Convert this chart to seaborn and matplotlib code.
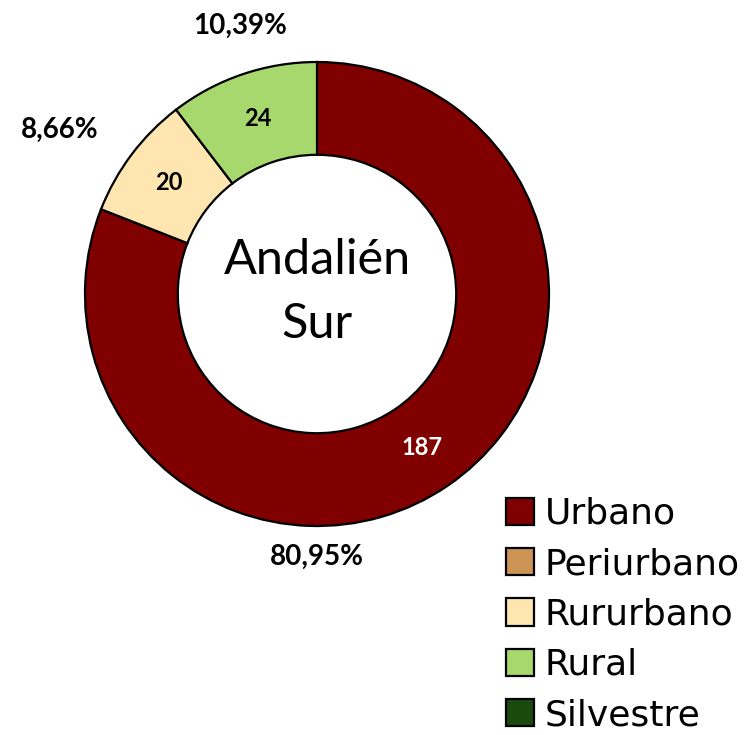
import matplotlib
matplotlib.use("Agg")
import matplotlib.pyplot as plt
import matplotlib.patches as mpatches
import numpy as np
import seaborn as sns

# Land-use classes and their counts
categories = ["Urbano", "Periurbano", "Rururbano", "Rural", "Silvestre"]
counts = [187, 0, 20, 24, 0]
colors = ["#800000", "#CC9455", "#FFE6B0", "#A6D86E", "#1B4A0E"]
title = "Andalién\nSur"

sns.set_theme(style="white")
plt.rcParams["font.family"] = ["DejaVu Sans"]
plt.rcParams["text.color"] = "black"

W, H = 748, 735
fig = plt.figure(figsize=(W / 100, H / 100), dpi=100)
ax = fig.add_axes([0, 0, 1, 1])

cx, cy, R = 317, H - 294, 232
ring = 0.40 * R

# only non-empty classes get a wedge
idx = [i for i, v in enumerate(counts) if v > 0]
vals = [counts[i] for i in idx]
cols = [colors[i] for i in idx]
wedges, _ = ax.pie(vals, colors=cols, startangle=90, counterclock=False,
                   center=(cx, cy), radius=R, frame=True,
                   wedgeprops=dict(width=ring, edgecolor="black", linewidth=1.6))
ax.set_xlim(0, W)
ax.set_ylim(0, H)
ax.set_axis_off()
ax.set_aspect("equal")

total = sum(counts)
label_font = ["Lato", "DejaVu Sans"]
# outer percentage label placement (angle in degrees, radius in px) per wedge
pct_pos = {0: (-90, 263), 2: (147.5, 305), 3: (106, 279)}
for w, i in zip(wedges, idx):
    mid = np.deg2rad((w.theta1 + w.theta2) / 2)
    rm = R - ring / 2
    txt_col = "white" if i == 0 else "black"
    ax.text(cx + rm * np.cos(mid), cy + rm * np.sin(mid), f"{counts[i]}",
            ha="center", va="center", fontsize=17, fontweight="bold",
            color=txt_col, family=label_font)
    ang, rp = pct_pos[i]
    a = np.deg2rad(ang)
    pct = f"{100 * counts[i] / total:.2f}%".replace(".", ",")
    ax.text(cx + rp * np.cos(a), cy + rp * np.sin(a), pct,
            ha="center", va="center", fontsize=20, fontweight="bold",
            color="black", family=label_font)

ax.text(cx, cy + 2, title, ha="center", va="center", fontsize=35,
        color="black", family=label_font, linespacing=1.55)

handles = [mpatches.Patch(facecolor=c, edgecolor="black", linewidth=1.6, label=l)
           for c, l in zip(colors, categories)]
fig.legend(handles=handles, loc="upper left",
           bbox_to_anchor=(506 / W, 1 - 497 / H), frameon=False,
           fontsize=26, handlelength=0.78, handleheight=0.78,
           handletextpad=0.3, labelspacing=0.45, borderpad=0, borderaxespad=0)

fig.savefig("out.png", dpi=100, facecolor="white")
